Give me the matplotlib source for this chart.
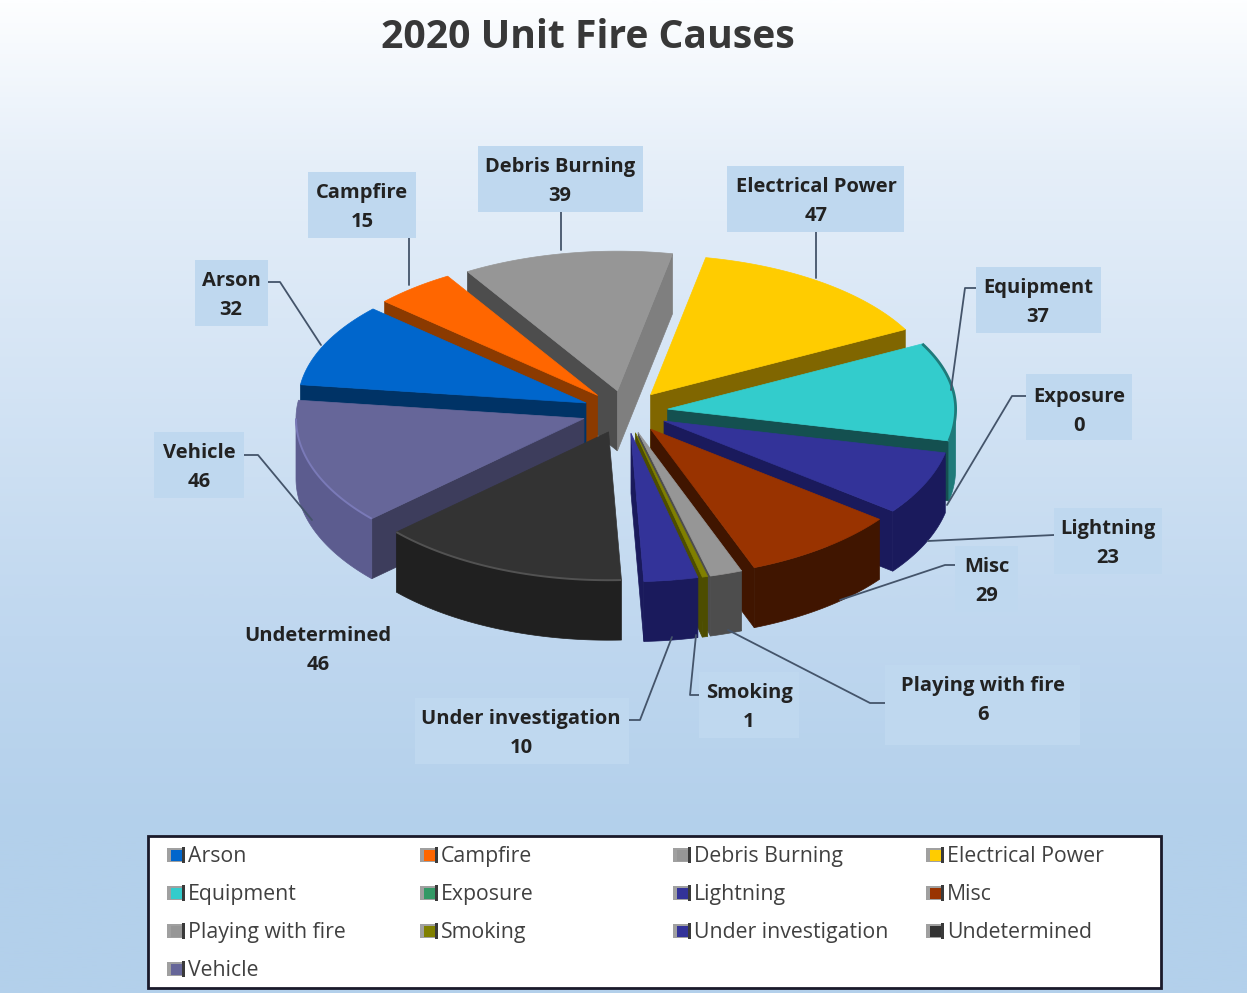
import numpy as np
import matplotlib
matplotlib.use("Agg")
import matplotlib.pyplot as plt
from matplotlib.patches import Polygon, Rectangle
from matplotlib.colors import LinearSegmentedColormap, to_rgb

# Fire cause counts
causes = ["Arson", "Campfire", "Debris Burning", "Electrical Power", "Equipment",
          "Exposure", "Lightning", "Misc", "Playing with fire", "Smoking",
          "Under investigation", "Undetermined", "Vehicle"]
counts = [32, 15, 39, 47, 37, 0, 23, 29, 6, 1, 10, 46, 46]

# Face colours for each cause
top_colors = ["#0066CC", "#FF6600", "#969696", "#FFCC00", "#33CCCC", "#339966", "#333399",
              "#993300", "#969696", "#808000", "#333399", "#333333", "#666699"]
side_colors = ["#003366", "#8B3A00", "#4D4D4D", "#806600", "#1F7A7A", "#1A4D33", "#1A1A5C",
               "#401500", "#4D4D4D", "#4D4D00", "#1A1A5C", "#202020", "#5C5C8F"]
wall_colors = ["#003366", "#8B3A00", "#4D4D4D", "#806600", "#145050", "#1A4D33", "#1A1A5C",
               "#401500", "#4D4D4D", "#4D4D00", "#1A1A5C", "#202020", "#3D3D5C"]
end_wall_colors = {"Debris Burning": "#7F7F7F", "Electrical Power": "#806600"}
rim_highlights = {"Vehicle": 1.2, "Undetermined": 1.6}
rim_shadows = {"Equipment": "#1F7A7A"}

# Pie projection, in canvas pixels; the far half is foreshortened a little
CX, CY = 625, 412
RADIUS = 288
SQUASH_FAR = 0.485
SQUASH_NEAR = 0.515
SQUASH_MID = 0.5
DEPTH = 60
EXPLODE = 43
START_DEG = 277.5

# Data label boxes: (x0, y0, x1, y1)
label_boxes = {
    "Arson": (195, 260, 268, 326), "Campfire": (308, 172, 416, 238),
    "Debris Burning": (478, 146, 643, 212), "Electrical Power": (727, 166, 904, 232),
    "Equipment": (976, 267, 1101, 333), "Exposure": (1026, 374, 1132, 440),
    "Lightning": (1054, 508, 1162, 574), "Misc": (955, 546, 1018, 612),
    "Playing with fire": (885, 665, 1080, 745), "Smoking": (699, 672, 799, 738),
    "Under investigation": (415, 698, 629, 764), "Undetermined": (222, 614, 414, 680),
    "Vehicle": (154, 432, 244, 498),
}
label_text_xy = {
    "Arson": (231, 295), "Campfire": (362, 207), "Debris Burning": (560, 181),
    "Electrical Power": (816, 201), "Equipment": (1038, 302), "Exposure": (1079, 411),
    "Lightning": (1108, 543), "Misc": (987, 581), "Playing with fire": (983, 700),
    "Smoking": (749, 707), "Under investigation": (521, 733), "Undetermined": (318, 650),
    "Vehicle": (199, 467),
}
leaders = {
    "Arson": [(268, 282), (280, 282), (321, 345)],
    "Campfire": [(409, 238), (409, 285)],
    "Debris Burning": [(561, 212), (561, 250)],
    "Electrical Power": [(816, 232), (816, 278)],
    "Equipment": [(976, 288), (965, 288), (951, 390)],
    "Exposure": [(1026, 396), (1012, 396), (947, 505)],
    "Lightning": [(1054, 535), (928, 541)],
    "Misc": [(955, 565), (945, 565), (840, 600)],
    "Playing with fire": [(885, 703), (870, 703), (728, 630)],
    "Smoking": [(699, 695), (690, 695), (696, 635)],
    "Under investigation": [(629, 720), (640, 720), (672, 637)],
    "Vehicle": [(244, 455), (258, 455), (312, 520)],
}

fig = plt.figure(figsize=(12.47, 9.93), dpi=100)
ax = fig.add_axes([0, 0, 1, 1])
ax.set_xlim(0, 1247)
ax.set_ylim(993, 0)
ax.axis("off")

# Page background: pale blue vertical gradient
stops = [0.0, 0.16, 0.64, 0.84, 1.0]
shades = ["#FDFEFF", "#E6EFF9", "#BFD7EF", "#B3D0EB", "#B3D0EB"]
cmap = LinearSegmentedColormap.from_list("page", list(zip(stops, shades)))
ax.imshow(np.linspace(0, 1, 512)[:, None], extent=(0, 1247, 993, 0), aspect="auto",
          cmap=cmap, zorder=0)


def rim(ox, oy, deg):
    """Point on the projected rim, angle measured clockwise from north."""
    t = np.radians(deg)
    north = np.cos(t)
    squash = np.where(north > 0, SQUASH_FAR, SQUASH_NEAR)
    return ox + RADIUS * np.sin(t), oy - RADIUS * squash * north


def shade(color, factor):
    r, g, b = to_rgb(color)
    return (min(r * factor, 1), min(g * factor, 1), min(b * factor, 1))


# Angular span of every slice comes straight from the counts
total = sum(counts)
sweeps = [c / total * 360 for c in counts]
starts = START_DEG + np.concatenate([[0], np.cumsum(sweeps)[:-1]])

slices = []
for i, name in enumerate(causes):
    if counts[i] == 0:
        continue
    a0, a1 = starts[i], starts[i] + sweeps[i]
    mid = np.radians((a0 + a1) / 2)
    ox = CX + EXPLODE * np.sin(mid)
    oy = CY - EXPLODE * SQUASH_MID * np.cos(mid)
    slices.append((np.cos(mid), i, name, a0, a1, ox, oy))

# Paint from the back of the pie to the front
z = 2
for _, i, name, a0, a1, ox, oy in sorted(slices, key=lambda s: -s[0]):
    arc = np.linspace(a0, a1, 120)
    xs, ys = rim(ox, oy, arc)
    front = np.cos(np.radians(arc)) < 0

    # Cut faces that turn towards the viewer
    for deg, is_end in ((a0, False), (a1, True)):
        facing = np.sin(np.radians(deg)) > 0 if is_end else np.sin(np.radians(deg)) < 0
        if not facing:
            continue
        ex, ey = rim(ox, oy, deg)
        color = end_wall_colors.get(name, wall_colors[i]) if is_end else wall_colors[i]
        ax.add_patch(Polygon([(ox, oy), (ex, ey), (ex, ey + DEPTH), (ox, oy + DEPTH)],
                             closed=True, fc=color, ec=color, lw=0.5, zorder=z))
        z += 1

    # Outer curved wall, only on the near half of the rim
    if front.any():
        fx, fy = xs[front], ys[front]
        side = np.column_stack([np.r_[fx, fx[::-1]], np.r_[fy, fy[::-1] + DEPTH]])
        ax.add_patch(Polygon(side, closed=True, fc=side_colors[i], ec=side_colors[i],
                             lw=0.5, zorder=z))
        z += 1

    # Top face, with a bevel along the rim on a few slices
    top = np.column_stack([np.r_[ox, xs], np.r_[oy, ys]])
    ax.add_patch(Polygon(top, closed=True, fc=top_colors[i], ec=top_colors[i],
                         lw=0.5, zorder=z))
    z += 1
    if name in rim_highlights:
        ax.plot(xs[front], ys[front], color=shade(top_colors[i], rim_highlights[name]),
                lw=1.4, zorder=z, solid_capstyle="butt")
    if name in rim_shadows:
        ax.plot(xs, ys, color=rim_shadows[name], lw=2.0, zorder=z, solid_capstyle="butt")
    z += 1

# Leader lines sit over the pie edge, boxes over the lines
for name, pts in leaders.items():
    px, py = zip(*pts)
    ax.plot(px, py, color="#44546A", lw=1.3, zorder=200, solid_capstyle="round")

for name, value in zip(causes, counts):
    x0, y0, x1, y1 = label_boxes[name]
    if name != "Undetermined":
        ax.add_patch(Rectangle((x0, y0), x1 - x0, y1 - y0, fc="#BFD8EF", ec="none", zorder=201))
    tx, ty = label_text_xy[name]
    ax.text(tx, ty - 14, name, ha="center", va="center", fontsize=14.5, fontweight="bold",
            family="Open Sans", color="#222222", zorder=202)
    ax.text(tx, ty + 15, str(value), ha="center", va="center", fontsize=14.5, fontweight="bold",
            family="Open Sans", color="#222222", zorder=202)

ax.text(588, 38, "2020 Unit Fire Causes", ha="center", va="center", fontsize=28.2,
        fontweight="bold", family="Open Sans", color="#383838", zorder=202)

# Legend panel: four columns filled row by row
ax.add_patch(Rectangle((148, 836), 1013, 152, fc="white", ec="#1A1A2A", lw=2, zorder=210))
col_x = [167, 420, 673, 926]
row_y = [855, 893, 931, 969]
for k, name in enumerate(causes):
    x = col_x[k % 4]
    y = row_y[k // 4]
    ax.add_patch(Rectangle((x, y - 7), 18, 14, fc="#A0A0A0", ec="none", zorder=211))
    ax.add_patch(Rectangle((x + 4, y - 5), 12, 11, fc=top_colors[k], ec="none", zorder=212))
    ax.add_patch(Rectangle((x + 15, y - 8), 2.5, 16, fc="#3A3A3A", ec="none", zorder=213))
    ax.text(x + 21, y + 7, name, ha="left", va="baseline", fontsize=15.3, family="Open Sans",
            color="#404040", zorder=214)

fig.savefig("out.png", dpi=100)
